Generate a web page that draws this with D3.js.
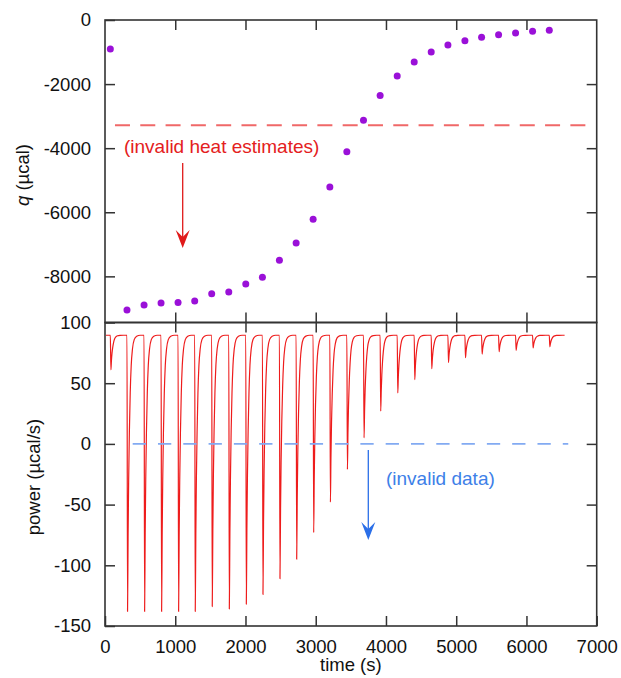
<!DOCTYPE html>
<html>
<head>
<meta charset="utf-8">
<script src="https://cdn.jsdelivr.net/npm/d3@7"></script>
<style>
  html, body { margin: 0; padding: 0; background: #fff; }
  svg { display: block; }
  text { font-family: "Liberation Sans", Arial, Helvetica, sans-serif; }
</style>
</head>
<body>
<svg id="chart" width="621" height="678"></svg>
<script>
// ---------------- data ----------------
// injection times (s) and integrated heats q (µcal)
const injTimes = [76, 313, 556, 798, 1040, 1277, 1519, 1762, 2004, 2241, 2483, 2721, 2963,
                  3201, 3443, 3680, 3917, 4160, 4402, 4644, 4882, 5124, 5361, 5603, 5845, 6087, 6325];
const heatQ = [-906, -9053, -8896, -8834, -8812, -8771, -8542, -8490, -8240, -8031, -7500, -6958, -6219,
               -5208, -4115, -3125, -2354, -1750, -1312, -1000, -781, -646, -542, -458, -406, -354, -323];
// minimum power reached by each injection peak (µcal/s)
const peakMin = [61, -138, -138, -138, -138, -138, -134, -136, -132, -124, -111, -95, -73,
                 -48, -21, 5, 27, 42, 53, 62, 67, 71, 74, 76, 77, 79, 80];
const baselinePower = 89.5;         // µcal/s
const traceStart = 14, traceEnd = 6543;  // s
// peak recovery profile: seconds after peak minimum -> fraction of deficit left
const recoveryOffsets = [0, 8, 16, 26, 38, 52, 70, 95, 130, 180];
const recoveryFrac    = [1, 0.72, 0.52, 0.35, 0.21, 0.11, 0.05, 0.016, 0.004, 0];
const dropDuration = 8;  // s from injection to minimum

const invalidHeatLevel = -3281;           // µcal, red dashed
const invalidHeatRange = [142, 6848];
const invalidPowerLevel = 0;              // µcal/s, blue dashed
const invalidPowerRange = [394, 6595];

const xTicks = [0, 1000, 2000, 3000, 4000, 5000, 6000, 7000];
const qTicks = [0, -2000, -4000, -6000, -8000];
const pTicks = [100, 50, 0, -50, -100, -150];

// ---------------- layout ----------------
const L = 105, R = 596.7, T = 20, M = 322.5, B = 626;
const svg = d3.select("#chart");
const FONT = 18.5;
const axisColor = "#333";

const x = d3.scaleLinear().domain([0, 7000]).range([L, R]);
const yq = d3.scaleLinear().domain([-9440, 0]).range([M, T]);
const yp = d3.scaleLinear().domain([-150, 100]).range([B, M]);

// ---------------- power trace ----------------
const trace = [[traceStart, baselinePower]];
injTimes.forEach((t0, i) => {
  trace.push([t0, baselinePower]);
  const tm = t0 + dropDuration;
  const deficit = baselinePower - peakMin[i];
  const next = i + 1 < injTimes.length ? injTimes[i + 1] : traceEnd;
  recoveryOffsets.forEach((o, k) => {
    const tt = tm + o;
    if (tt < next - 1) trace.push([tt, baselinePower - deficit * recoveryFrac[k]]);
  });
});
trace.push([traceEnd, baselinePower]);

const pClipId = "pclip";
svg.append("clipPath").attr("id", pClipId).append("rect")
  .attr("x", L).attr("y", M).attr("width", R - L).attr("height", B - M);

svg.append("path")
  .datum(trace)
  .attr("clip-path", `url(#${pClipId})`)
  .attr("fill", "none")
  .attr("stroke", "#ee1c1c")
  .attr("stroke-width", 1.2)
  .attr("stroke-linejoin", "round")
  .attr("d", d3.line().x(d => x(d[0])).y(d => yp(d[1])).curve(d3.curveMonotoneX));

// dashed invalid lines
svg.append("line")
  .attr("x1", x(invalidHeatRange[0])).attr("x2", x(invalidHeatRange[1]))
  .attr("y1", yq(invalidHeatLevel)).attr("y2", yq(invalidHeatLevel))
  .attr("stroke", "#f06868").attr("stroke-width", 2)
  .attr("stroke-dasharray", "15,10.3");

svg.append("line")
  .attr("x1", x(invalidPowerRange[0])).attr("x2", x(invalidPowerRange[1]))
  .attr("y1", yp(invalidPowerLevel)).attr("y2", yp(invalidPowerLevel))
  .attr("stroke", "#82aaf2").attr("stroke-width", 1.6)
  .attr("stroke-dasharray", "13.3,12");

// heat points
svg.append("g").selectAll("circle")
  .data(injTimes.map((t, i) => [t, heatQ[i]]))
  .join("circle")
  .attr("cx", d => x(d[0])).attr("cy", d => yq(d[1]))
  .attr("r", 3.5)
  .attr("fill", "#9a10d8");

// ---------------- axes ----------------
function styleAxis(g) {
  g.select(".domain").remove();
  g.selectAll(".tick line").attr("stroke", axisColor).attr("stroke-width", 1.5);
  g.selectAll(".tick text").attr("fill", "#111").attr("font-size", FONT)
    .attr("font-family", "'Liberation Sans', Arial, sans-serif");
}
const fmt = d3.format("d");
const fmtHy = d => fmt(d).replace("\u2212", "-");

// top panel
svg.append("g").attr("transform", `translate(${L},0)`)
  .call(d3.axisLeft(yq).tickValues(qTicks).tickFormat(fmtHy).tickSize(-10).tickPadding(14)).call(styleAxis);
svg.append("g").attr("transform", `translate(${R},0)`)
  .call(d3.axisRight(yq).tickValues(qTicks.slice(1)).tickFormat("").tickSize(-10)).call(styleAxis);
svg.append("g").attr("transform", `translate(0,${T})`)
  .call(d3.axisTop(x).tickValues(xTicks.slice(1, -1)).tickFormat("").tickSize(-10)).call(styleAxis);
svg.append("g").attr("transform", `translate(0,${M})`)
  .call(d3.axisBottom(x).tickValues(xTicks.slice(1, -1)).tickFormat("").tickSize(-10)).call(styleAxis);

// bottom panel
svg.append("g").attr("transform", `translate(${L},0)`)
  .call(d3.axisLeft(yp).tickValues(pTicks).tickFormat(fmtHy).tickSize(-10).tickPadding(14)).call(styleAxis);
svg.append("g").attr("transform", `translate(${R},0)`)
  .call(d3.axisRight(yp).tickValues(pTicks.slice(1, -1)).tickFormat("").tickSize(-10)).call(styleAxis);
svg.append("g").attr("transform", `translate(0,${M})`)
  .call(d3.axisTop(x).tickValues(xTicks.slice(1, -1)).tickFormat("").tickSize(-10)).call(styleAxis);
svg.append("g").attr("transform", `translate(0,${B})`)
  .call(d3.axisBottom(x).tickValues(xTicks).tickFormat(fmt).tickSize(-10).tickPadding(14)).call(styleAxis);

// frames
svg.append("rect").attr("x", L).attr("y", T).attr("width", R - L).attr("height", M - T)
  .attr("fill", "none").attr("stroke", axisColor).attr("stroke-width", 1.6);
svg.append("rect").attr("x", L).attr("y", M).attr("width", R - L).attr("height", B - M)
  .attr("fill", "none").attr("stroke", axisColor).attr("stroke-width", 1.6);

// axis labels
const ql = svg.append("text")
  .attr("transform", "translate(29,175) rotate(-90)")
  .attr("text-anchor", "middle").attr("font-size", FONT).attr("fill", "#111");
ql.append("tspan").attr("font-style", "italic").text("q");
ql.append("tspan").text(" (µcal)");

svg.append("text")
  .attr("transform", "translate(40,477) rotate(-90)")
  .attr("text-anchor", "middle").attr("font-size", FONT).attr("fill", "#111")
  .text("power (µcal/s)");

svg.append("text")
  .attr("x", (L + R) / 2).attr("y", 671)
  .attr("text-anchor", "middle").attr("font-size", FONT).attr("fill", "#111")
  .text("time (s)");

// annotations
function arrow(xp, y0, y1, color) {
  svg.append("line").attr("x1", xp).attr("x2", xp).attr("y1", y0).attr("y2", y1 - 8)
    .attr("stroke", color).attr("stroke-width", 1.3);
  svg.append("path")
    .attr("d", `M${xp},${y1} L${xp - 7},${y1 - 18} L${xp},${y1 - 11} L${xp + 7},${y1 - 18} Z`)
    .attr("fill", color);
}

svg.append("text").attr("x", 124).attr("y", 153)
  .attr("font-size", 19).attr("fill", "#e42020")
  .text("(invalid heat estimates)");
arrow(182.7, 163, 248, "#e01a1a");

svg.append("text").attr("x", 386).attr("y", 485)
  .attr("font-size", 19).attr("fill", "#3d80e8")
  .text("(invalid data)");
arrow(368.3, 450, 540, "#2b6fe8");
</script>
</body>
</html>
